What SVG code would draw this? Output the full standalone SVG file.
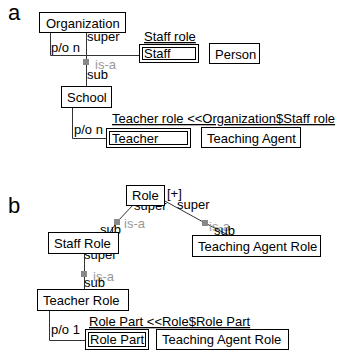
<svg xmlns="http://www.w3.org/2000/svg" width="342" height="354" viewBox="0 0 342 354">
<style>
text{font-family:"Liberation Sans",Arial,sans-serif;font-size:13px;fill:#000}
.big{font-size:22px}
.box{fill:#fff;stroke:#000;stroke-width:1}
.ln{fill:none;stroke:#333;stroke-width:1}
.sq{fill:#888}
.isa{fill:#999}
.u{text-decoration:underline}
</style>
<rect width="342" height="354" fill="#fff"/>
<text class="big" x="8" y="20">a</text>
<text class="big" x="8" y="213">b</text>
<g id="connectors">
<path class="ln" d="M50.5 33V55.5H139"/>
<path class="ln" d="M86.5 33V86"/>
<rect class="sq" x="83" y="59" width="6" height="6"/>
<path class="ln" d="M72.5 107V138.5H106"/>
<path class="ln" d="M133 205L117 222L110 232"/>
<rect class="sq" x="114" y="219" width="6" height="6"/>
<path class="ln" d="M163 200L205 223L228 235"/>
<rect class="sq" x="202" y="220" width="6" height="6"/>
<path class="ln" d="M84.5 253V289"/>
<rect class="sq" x="81" y="271" width="6" height="6"/>
<path class="ln" d="M49.5 310V340.5H85"/>
<text x="87" y="41">super</text>
<text x="51" y="52">p/o n</text>
<text class="isa" x="95" y="69">is-a</text>
<text x="87" y="79">sub</text>
<text class="u" x="144" y="41">Staff role</text>
<text x="74" y="134">p/o n</text>
<text class="u" x="112" y="123">Teacher role &lt;&lt;Organization$Staff role</text>
<text x="134" y="210">super</text>
<text x="167" y="198">[+]</text>
<text x="177" y="209">super</text>
<text class="isa" x="124" y="228">is-a</text>
<text x="100" y="234">sub</text>
<text class="isa" x="209" y="231">is-a</text>
<text x="214" y="235">sub</text>
<text x="84" y="259">super</text>
<text class="isa" x="93" y="281">is-a</text>
<text x="84" y="287">sub</text>
<text x="51" y="334">p/o 1</text>
<text class="u" x="89" y="326">Role Part &lt;&lt;Role$Role Part</text>
</g>
<g id="organization"><rect class="box" x="39.5" y="12.5" width="86" height="20"/><text x="46" y="28">Organization</text></g>
<g id="staff"><rect class="box" x="139.5" y="44.5" width="59" height="18"/><rect class="box" x="142.5" y="47.5" width="53" height="12"/><text x="144" y="58">Staff</text></g>
<g id="person"><rect class="box" x="209.5" y="43.5" width="50" height="20"/><text x="215" y="59">Person</text></g>
<g id="school"><rect class="box" x="61.5" y="86.5" width="50" height="21"/><text x="67" y="102">School</text></g>
<g id="teacher"><rect class="box" x="106.5" y="128.5" width="84" height="19"/><rect class="box" x="109.5" y="131.5" width="78" height="13"/><text x="112" y="143">Teacher</text></g>
<g id="teaching-agent"><rect class="box" x="201.5" y="127.5" width="99" height="20"/><text x="207" y="143">Teaching Agent</text></g>
<g id="role"><rect class="box" x="126.5" y="185.5" width="38" height="20"/><text x="132" y="200">Role</text></g>
<g id="staff-role"><rect class="box" x="48.5" y="232.5" width="70" height="21"/><text x="54" y="248">Staff Role</text></g>
<g id="teaching-agent-role"><rect class="box" x="192.5" y="235.5" width="128" height="21"/><text x="198" y="251">Teaching Agent Role</text></g>
<g id="teacher-role"><rect class="box" x="37.5" y="289.5" width="91" height="21"/><text x="43" y="305">Teacher Role</text></g>
<g id="role-part"><rect class="box" x="85.5" y="329.5" width="63" height="20"/><rect class="box" x="88.5" y="332.5" width="57" height="14"/><text x="90" y="344">Role Part</text></g>
<g id="teaching-agent-role-2"><rect class="box" x="156.5" y="329.5" width="132" height="20"/><text x="162" y="344">Teaching Agent Role</text></g>
</svg>
